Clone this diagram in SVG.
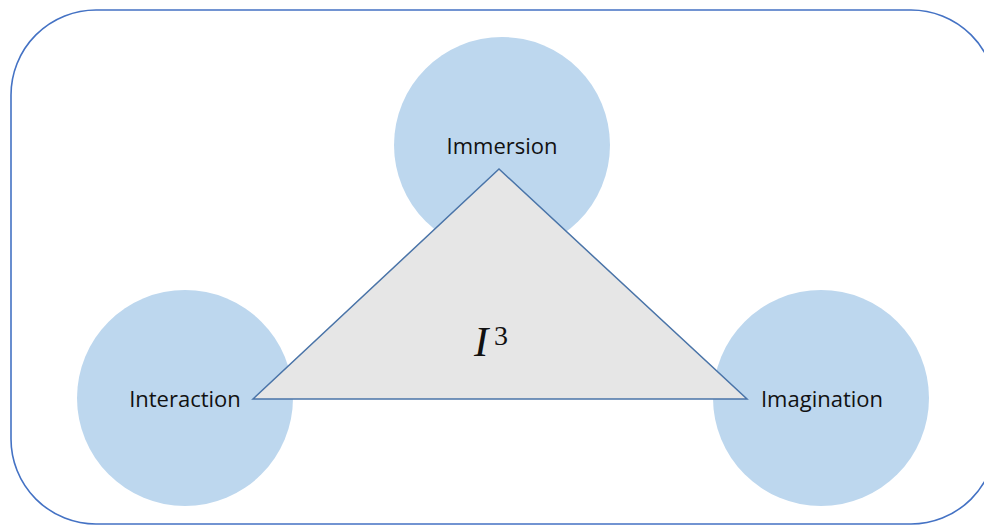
<svg xmlns="http://www.w3.org/2000/svg" width="984" height="525" viewBox="0 0 984 525">
<style>
.node circle{fill:#BDD7EE;}
.lbl{font-family:"Open Sans","Liberation Sans",sans-serif;font-size:22px;fill:#111;text-anchor:middle;}
.frame{fill:none;stroke:#4472C4;stroke-width:1.6;}
.tri{fill:#E6E6E6;stroke:#4A74A8;stroke-width:1.5;stroke-linejoin:miter;}
.math{font-family:"Liberation Serif",serif;fill:#111;}
</style>
<rect class="frame" x="11" y="10" width="985" height="514" rx="85" ry="85"/>
<g id="immersion" class="node"><circle cx="502" cy="145" r="108"/></g>
<g id="interaction" class="node"><circle cx="185" cy="398" r="108"/></g>
<g id="imagination" class="node"><circle cx="821" cy="398" r="108"/></g>
<g id="connectors">
<polygon class="tri" points="499,169 253,399 747,399"/>
</g>
<g id="labels">
<text class="lbl" x="502" y="154">Immersion</text>
<text class="lbl" x="185" y="407">Interaction</text>
<text class="lbl" x="822" y="407">Imagination</text>
<text class="math" x="474" y="356" font-size="43" font-style="italic">I</text>
<text class="math" x="494" y="345" font-size="28">3</text>
</g>
</svg>
